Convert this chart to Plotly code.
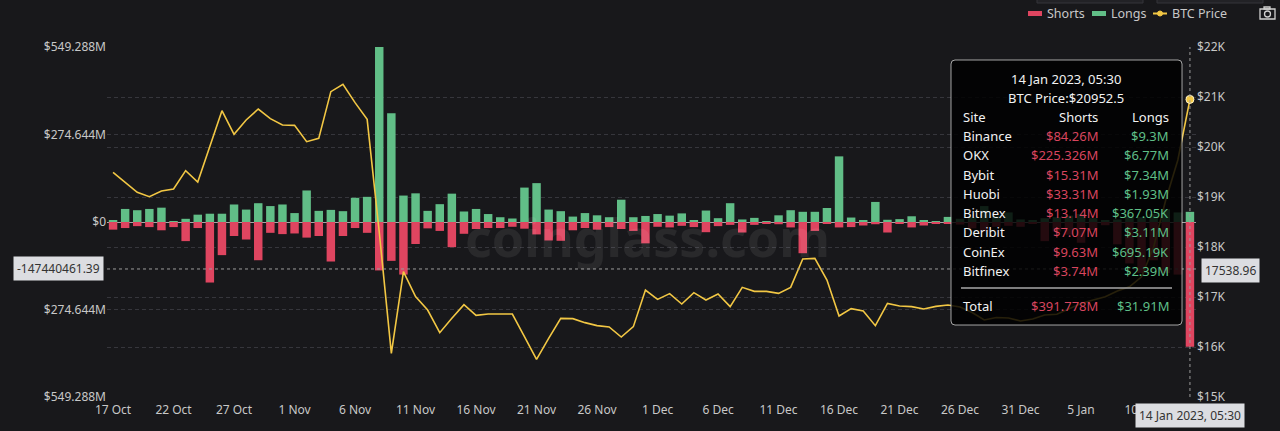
import pandas as pd
import plotly.graph_objects as go

# daily liquidation buckets, 17 Oct 2022 .. 14 Jan 2023
dates = pd.date_range("2022-10-17", "2023-01-14", freq="D")

longs_m = [
    5, 41, 37, 41, 45, 3, 10, 23, 26, 26, 55, 39, 59, 50, 55, 28, 99, 35, 38, 34,
    76, 79, 549.288, 341, 83, 90, 35, 56, 89, 33, 41, 25, 15, 11, 108, 122, 39, 34, 17, 28,
    21, 15, 70, 15, 19, 25, 20, 27, 6, 36, 12, 59, 8, 13, 3, 21, 37, 32, 32, 44,
    206, 14, 5, 63, 7, 9, 18, 4, 3, 16, 10, 15, 50, 20, 30, 8, 5, 12, 15, 20,
    25, 12, 5, 8, 20, 15, 25, 40, 30, 31.91,
]
shorts_m = [
    24, 19, 13, 16, 26, 16, 60, 19, 190, 104, 44, 55, 120, 34, 38, 36, 49, 44, 124, 44,
    19, 34, 152, 122, 165, 69, 20, 28, 79, 37, 22, 19, 19, 15, 21, 39, 58, 59, 26, 19,
    24, 16, 22, 28, 67, 15, 17, 12, 16, 32, 13, 9, 33, 9, 4, 7, 17, 98, 28, 6,
    17, 16, 11, 7, 33, 6, 17, 11, 4, 4, 8, 20, 30, 15, 12, 15, 6, 60, 30, 40,
    65, 25, 10, 70, 130, 160, 120, 160, 165, 391.778,
]
btc_price = [
    19493, 19287, 19093, 19007, 19120, 19160, 19527, 19300, 20007, 20727,
    20253, 20540, 20760, 20567, 20440, 20433, 20107, 20173, 21107, 21253,
    20887, 20553, 18300, 15873, 17507, 17007, 16740, 16287, 16573, 16847,
    16633, 16660, 16660, 16660, 16207, 15753, 16173, 16573, 16567, 16487,
    16427, 16400, 16200, 16407, 17140, 16953, 17067, 16860, 17087, 16940,
    17060, 16807, 17193, 17113, 17113, 17073, 17193, 17760, 17773, 17340,
    16620, 16767, 16720, 16427, 16873, 16820, 16807, 16760, 16813, 16840,
    16800, 16690, 16540, 16590, 16580, 16520, 16560, 16640, 16655, 16770,
    16870, 16940, 17005, 17120, 17205, 17405, 18000, 18940, 19740, 20952.5,
]

x_ticks = ["2022-10-17", "2022-10-22", "2022-10-27", "2022-11-01", "2022-11-06",
           "2022-11-11", "2022-11-16", "2022-11-21", "2022-11-26", "2022-12-01",
           "2022-12-06", "2022-12-11", "2022-12-16", "2022-12-21", "2022-12-26",
           "2022-12-31", "2023-01-05", "2023-01-10"]
left_ticks = [-549.288e6, -274.644e6, 0, 274.644e6, 549.288e6]
left_labels = ["$549.288M", "$274.644M", "$0", "$274.644M", "$549.288M"]
right_ticks = [15000, 16000, 17000, 18000, 19000, 20000, 21000, 22000]
right_labels = ["$15K", "$16K", "$17K", "$18K", "$19K", "$20K", "$21K", "$22K"]

# hover state
cursor_time = "14 Jan 2023, 05:30"
cursor_left = -147440461.39
cursor_right = 17538.96
sites = ["Binance", "OKX", "Bybit", "Huobi", "Bitmex", "Deribit", "CoinEx", "Bitfinex"]
site_shorts = ["$84.26M", "$225.326M", "$15.31M", "$33.31M", "$13.14M", "$7.07M", "$9.63M", "$3.74M"]
site_longs = ["$9.3M", "$6.77M", "$7.34M", "$1.93M", "$367.05K", "$3.11M", "$695.19K", "$2.39M"]
total_shorts = "$391.778M"
total_longs = "$31.91M"

RED = "#df4560"
GREEN = "#61be87"
YELLOW = "#f2c744"
BG = "#18181b"
GRID = "#36363c"
FONT = "Noto Sans"
TXT = "#c8c8c8"

# plot area in pixels, for placing overlay pieces
L, R, T, B = 107, 1196, 47, 397


def fx(px):
    return (px - L) / (R - L)


def fy(py):
    return (B - py) / (B - T)


fig = go.Figure()

fig.add_trace(go.Bar(
    x=dates, y=[-v * 1e6 for v in shorts_m], name="Shorts",
    marker=dict(color=RED, line=dict(width=0)),
))
fig.add_trace(go.Bar(
    x=dates, y=[v * 1e6 for v in longs_m], name="Longs",
    marker=dict(color=GREEN, line=dict(width=0)),
))
fig.add_trace(go.Scatter(
    x=dates, y=btc_price, yaxis="y2", mode="lines", name="BTC Price",
    line=dict(color=YELLOW, width=1.6),
))
# highlighted point under the cursor
fig.add_trace(go.Scatter(
    x=dates[-1:], y=btc_price[-1:], yaxis="y2", mode="markers", name="BTC Price",
    marker=dict(color=YELLOW, size=8, line=dict(color="#fff3c4", width=1)),
))

shapes = [
    # crosshair
    dict(type="line", xref="x", yref="paper", x0=dates[-1], x1=dates[-1], y0=0, y1=1,
         line=dict(color="#9c9c9c", width=1, dash="3px,3px")),
    dict(type="line", xref="paper", yref="y", x0=0, x1=1, y0=cursor_left, y1=cursor_left,
         line=dict(color="#9c9c9c", width=1, dash="3px,3px")),
]

# tooltip box with rounded corners
bx0, bx1, by0, by1, rr = 951, 1182, 60, 325, 4
path = (
    f"M {fx(bx0 + rr)} {fy(by0)} L {fx(bx1 - rr)} {fy(by0)} "
    f"Q {fx(bx1)} {fy(by0)} {fx(bx1)} {fy(by0 + rr)} L {fx(bx1)} {fy(by1 - rr)} "
    f"Q {fx(bx1)} {fy(by1)} {fx(bx1 - rr)} {fy(by1)} L {fx(bx0 + rr)} {fy(by1)} "
    f"Q {fx(bx0)} {fy(by1)} {fx(bx0)} {fy(by1 - rr)} L {fx(bx0)} {fy(by0 + rr)} "
    f"Q {fx(bx0)} {fy(by0)} {fx(bx0 + rr)} {fy(by0)} Z"
)
shapes.append(dict(type="path", xref="paper", yref="paper", path=path,
                   fillcolor="rgba(0,0,0,0.84)", line=dict(color="rgba(215,215,215,0.75)", width=1)))
shapes.append(dict(type="line", xref="paper", yref="paper", x0=fx(961), x1=fx(1172),
                   y0=fy(288), y1=fy(288), line=dict(color="#a8a8a8", width=1.5)))

# legend drawn by hand (short wide swatches like the original)
legend_items = [("Shorts", RED, 1028), ("Longs", GREEN, 1092), ("BTC Price", YELLOW, 1153)]
annotations = []
for label, color, sx in legend_items:
    if label == "BTC Price":
        shapes.append(dict(type="line", xref="paper", yref="paper", x0=fx(sx), x1=fx(sx + 14),
                           y0=fy(13.5), y1=fy(13.5), line=dict(color=color, width=2)))
        shapes.append(dict(type="circle", xref="paper", yref="paper", x0=fx(sx + 4.5), x1=fx(sx + 9.5),
                           y0=fy(16), y1=fy(11), fillcolor=color, line=dict(color=color, width=1)))
    else:
        shapes.append(dict(type="rect", xref="paper", yref="paper", x0=fx(sx), x1=fx(sx + 14),
                           y0=fy(16), y1=fy(11), fillcolor=color, line=dict(width=0)))
    annotations.append(dict(text=label, xref="paper", yref="paper", x=fx(sx + 17), y=fy(13.5),
                            xanchor="left", yanchor="middle", showarrow=False,
                            font=dict(family=FONT, size=12.5, color=TXT)))

# top toolbar remnants and camera icon
for ux0, ux1 in [(1037, 1143), (1157, 1263)]:
    shapes.append(dict(type="rect", xref="paper", yref="paper", x0=fx(ux0), x1=fx(ux1),
                       y0=fy(3), y1=fy(-6), fillcolor="#222226", line=dict(color="#34343a", width=1)))
shapes.append(dict(type="rect", xref="paper", yref="paper", x0=fx(1260), x1=fx(1275),
                   y0=fy(19), y1=fy(9), line=dict(color="#d0d0d0", width=1.3)))
shapes.append(dict(type="rect", xref="paper", yref="paper", x0=fx(1264), x1=fx(1270),
                   y0=fy(9), y1=fy(7), line=dict(color="#d0d0d0", width=1.3)))
shapes.append(dict(type="circle", xref="paper", yref="paper", x0=fx(1264.5), x1=fx(1270.5),
                   y0=fy(17), y1=fy(11), line=dict(color="#d0d0d0", width=1.3)))

annotations += [
    dict(text="<b>coinglass.com</b>", xref="paper", yref="paper", x=fx(647), y=fy(236),
         showarrow=False, font=dict(family=FONT, size=52, color="rgba(255,255,255,0.075)"),
         xanchor="center", yanchor="middle"),
    dict(text=f"{cursor_left}", xref="paper", yref="y", x=0, y=cursor_left, xanchor="right",
         xshift=-3, showarrow=False, bgcolor="#dcdde1", borderpad=3,
         font=dict(family=FONT, size=12, color="#333")),
    dict(text=f"{cursor_right}", xref="paper", yref="y2", x=1, y=cursor_right, xanchor="left",
         xshift=5, showarrow=False, bgcolor="#dcdde1", borderpad=3,
         font=dict(family=FONT, size=12, color="#333")),
    dict(text=cursor_time, xref="x", yref="paper", x=dates[-1], y=0, yanchor="top",
         yshift=-6, showarrow=False, bgcolor="#dcdde1", borderpad=3,
         font=dict(family=FONT, size=12, color="#333")),
    dict(text=cursor_time, xref="paper", yref="paper", x=fx(1066), y=fy(79),
         xanchor="center", yanchor="middle",
         showarrow=False, font=dict(family=FONT, size=13, color="#f2f2f2")),
    dict(text=f"BTC Price:${btc_price[-1]}", xref="paper", yref="paper", x=fx(1066), y=fy(98),
         xanchor="center", yanchor="middle",
         showarrow=False, font=dict(family=FONT, size=13, color="#f2f2f2")),
]


def cell(text, px, py, color, anchor):
    return dict(text=text, xref="paper", yref="paper", x=fx(px), y=fy(py), xanchor=anchor,
                yanchor="middle", showarrow=False, font=dict(family=FONT, size=13, color=color))


annotations.append(cell("Site", 961, 117, "#f2f2f2", "left"))
annotations.append(cell("Shorts", 1100, 117, "#f2f2f2", "right"))
annotations.append(cell("Longs", 1171, 117, "#f2f2f2", "right"))
for i, site in enumerate(sites):
    row_y = 136 + i * 19.25
    annotations.append(cell(site, 961, row_y, "#f2f2f2", "left"))
    annotations.append(cell(site_shorts[i], 1100, row_y, "#d8455e", "right"))
    annotations.append(cell(site_longs[i], 1171, row_y, "#5fbf87", "right"))
annotations.append(cell("Total", 961, 306, "#f2f2f2", "left"))
annotations.append(cell(total_shorts, 1100, 306, "#d8455e", "right"))
annotations.append(cell(total_longs, 1171, 306, "#5fbf87", "right"))

fig.update_layout(
    width=1280,
    height=431,
    margin=dict(l=L, r=1280 - R, t=T, b=431 - B, autoexpand=False),
    paper_bgcolor=BG,
    plot_bgcolor=BG,
    barmode="relative",
    bargap=0.3,
    font=dict(family=FONT, size=12, color=TXT),
    showlegend=False,
    xaxis=dict(
        type="date",
        range=[dates[0] - pd.Timedelta(hours=12), dates[-1] + pd.Timedelta(hours=12)],
        tickvals=x_ticks,
        tickformat="%-d %b",
        showgrid=False,
        zeroline=False,
        showline=False,
        ticks="",
        ticklabelstandoff=4,
        tickfont=dict(family=FONT, size=12, color=TXT),
    ),
    yaxis=dict(
        range=[-549.288e6, 549.288e6],
        tickvals=left_ticks,
        ticktext=left_labels,
        showgrid=True,
        gridcolor=GRID,
        griddash="4px,3px",
        zeroline=True,
        zerolinecolor="#a6a6a6",
        zerolinewidth=1,
        ticks="",
        tickfont=dict(family=FONT, size=12, color=TXT),
    ),
    yaxis2=dict(
        overlaying="y",
        side="right",
        range=[15000, 22000],
        tickvals=right_ticks,
        ticktext=right_labels,
        showgrid=True,
        gridcolor=GRID,
        griddash="4px,3px",
        zeroline=False,
        ticks="",
        tickfont=dict(family=FONT, size=12, color=TXT),
    ),
    shapes=shapes,
    annotations=annotations,
)

fig.write_html(
    "out.html",
    config={"displayModeBar": False},
    post_script="document.body.style.margin='0';document.body.style.background='%s';" % BG,
)
